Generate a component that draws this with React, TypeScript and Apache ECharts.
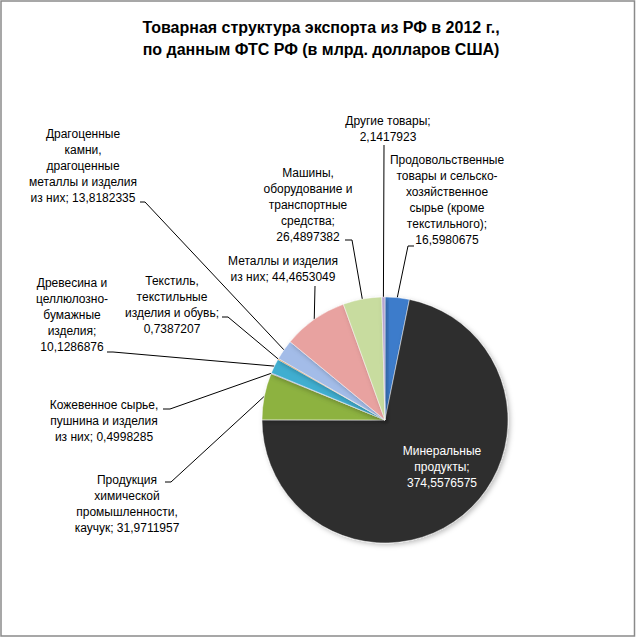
import React, { useEffect, useRef } from "react";
import * as echarts from "echarts";

const categories = [
  "Продовольственные\nтовары и сельско-\nхозяйственное\nсырье (кроме\nтекстильного)",
  "Минеральные\nпродукты",
  "Продукция\nхимической\nпромышленности,\nкаучук",
  "Кожевенное сырье,\nпушнина и изделия\nиз них",
  "Древесина и\nцеллюлозно-\nбумажные\nизделия",
  "Текстиль,\nтекстильные\nизделия и обувь",
  "Драгоценные\nкамни,\nдрагоценные\nметаллы и изделия\nиз них",
  "Металлы и изделия\nиз них",
  "Машины,\nоборудование и\nтранспортные\nсредства",
  "Другие товары",
];
const values = [
  16.5980675, 374.5576575, 31.9711957, 0.4998285, 10.1286876, 0.7387207,
  13.8182335, 44.4653049, 26.4897382, 2.1417923,
];
// whether the value goes on its own line in the label
const valueOnNewLine = [true, true, false, false, true, true, false, false, true, true];

const colors = [
  "#3E7CCB", "#2D2D2D", "#8DB23F", "#7D60A3", "#3FAED0",
  "#F08A2E", "#A3BCE8", "#E8A2A0", "#C8DC9F", "#B5A5D0",
];

// label centres (layout)
const labelPos: [number, number][] = [
  [447, 200], [442, 467], [127, 504], [104, 421], [72, 315],
  [172, 305], [83, 166], [283, 269], [308, 205], [388, 129],
];
// where each leader line meets its label: [bend point, end at text]
const labelLineEnds: ([number, number][] | null)[] = [
  [[408, 246], [414, 246]],
  null,
  [[171, 482], [165, 482]],
  [[170, 409], [163, 409]],
  [[113, 352], [107, 352]],
  [[228, 317], [222, 317]],
  [[145, 202], [140, 202]],
  [[315, 286], [315, 286]],
  [[352, 240], [345, 240]],
  [[384, 145], [384, 145]],
];

const titleText =
  "Товарная структура экспорта из РФ в 2012 г.,\nпо данным ФТС РФ (в млрд. долларов США)";

export default function App() {
  const ref = useRef<HTMLDivElement>(null);
  useEffect(() => {
    if (!ref.current) return;
    const chart = echarts.init(ref.current, undefined, { renderer: "svg" });
    const font = "'Liberation Sans', Arial, sans-serif";
    chart.setOption({
      animation: false,
      backgroundColor: "#fff",
      title: {
        text: titleText,
        left: 316,
        textAlign: "center",
        top: 11,
        textStyle: {
          fontFamily: font,
          fontSize: 16,
          fontWeight: "bold",
          lineHeight: 22,
          color: "#000",
        },
      },
      graphic: [
        {
          type: "rect",
          shape: { x: 1, y: 1, width: 633.5, height: 635 },
          style: { fill: "none", stroke: "#8a8a8a", lineWidth: 1.5 },
          silent: true,
        },
      ],
      series: [
        {
          type: "pie",
          center: [385, 420],
          radius: 123,
          startAngle: 90,
          clockwise: true,
          avoidLabelOverlap: false,
          itemStyle: {
            borderColor: "rgba(255,255,255,0.45)",
            borderWidth: 1,
            shadowBlur: 5,
            shadowColor: "rgba(0,0,0,0.25)",
            shadowOffsetX: 2,
            shadowOffsetY: 2,
          },
          label: {
            show: true,
            fontFamily: font,
            fontSize: 12,
            lineHeight: 16,
            color: "#000",
            align: "center",
            formatter: (p: any) =>
              p.name +
              ";" +
              (valueOnNewLine[p.dataIndex] ? "\n" : " ") +
              String(p.value).replace(".", ","),
          },
          labelLine: {
            show: true,
            length: 10,
            length2: 10,
            lineStyle: { color: "#000", width: 1 },
          },
          labelLayout: (params: any) => {
            const i = params.dataIndex;
            const [x, y] = labelPos[i];
            const out: any = { x, y, align: "center", verticalAlign: "middle" };
            const ends = labelLineEnds[i];
            const pts = params.labelLinePoints;
            if (ends && pts && pts.length) {
              out.labelLinePoints = [pts[0], ends[0], ends[1]];
            }
            return out;
          },
          data: categories.map((name, i) => ({
            name,
            value: values[i],
            itemStyle: { color: colors[i] },
            ...(i === 1
              ? {
                  label: { color: "#fff" },
                  labelLine: { show: false },
                }
              : {}),
          })),
        },
      ],
    });
    return () => chart.dispose();
  }, []);
  return (
    <div
      ref={ref}
      style={{ position: "absolute", left: 0, top: 0, width: 637, height: 638 }}
    />
  );
}
